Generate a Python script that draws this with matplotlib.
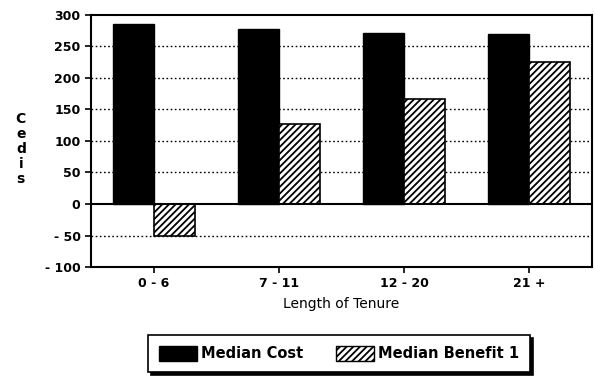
import matplotlib
matplotlib.use("Agg")
import matplotlib.pyplot as plt
import numpy as np
from matplotlib.patches import Patch

tenure = ["0 - 6", "7 - 11", "12 - 20", "21 +"]
median_cost = [285, 278, 272, 270]
median_benefit = [-50, 127, 167, 225]
y_ticks = [-100, -50, 0, 50, 100, 150, 200, 250, 300]
y_labels = ["- 100", "- 50", "0", "50", "100", "150", "200", "250", "300"]

plt.rcParams["font.family"] = ["DejaVu Sans"]
plt.rcParams["hatch.linewidth"] = 1.3

fig = plt.figure(figsize=(5.95, 3.82), dpi=100)
ax = fig.add_axes([0.153, 0.301, 0.842, 0.66])

x = np.arange(len(tenure))
w = 0.327
ax.set_axisbelow(True)
for yv in [-50, 50, 100, 150, 200, 250]:
    ax.axhline(yv, color="black", linestyle=(0, (1.2, 1.8)), linewidth=1.0, zorder=0)
ax.bar(x - w / 2, median_cost, w, color="black", edgecolor="black", linewidth=1, zorder=2)
ax.bar(x + w / 2, median_benefit, w, color="white", edgecolor="black",
       hatch="/////", linewidth=1.2, zorder=2)
ax.axhline(0, color="black", linewidth=1.5, zorder=3)

ax.set_xlim(-0.5, 3.5)
ax.set_ylim(-100, 300)
ax.set_xticks(x)
ax.set_xticklabels(tenure, fontsize=9, fontweight="bold")
ax.set_yticks(y_ticks)
ax.set_yticklabels(y_labels, fontsize=9, fontweight="bold")
ax.tick_params(direction="out", length=4, width=1.2, colors="black")
for s in ax.spines.values():
    s.set_linewidth(1.5)
ax.set_xlabel("Length of Tenure", fontsize=10, labelpad=5)

fig.text(0.035, 0.61, "C\ne\nd\ni\ns", ha="center", va="center",
         fontsize=10, fontweight="bold", linespacing=1.1)

handles = [Patch(facecolor="black", edgecolor="black", label="Median Cost"),
           Patch(facecolor="white", edgecolor="black", hatch="/////", label="Median Benefit 1")]
leg = fig.legend(handles=handles, loc="center", bbox_to_anchor=(0.57, 0.074), ncol=2,
                 frameon=True, fancybox=False, shadow={"color": "black", "alpha": 1},
                 edgecolor="black", prop={"size": 10.5, "weight": "bold"},
                 handlelength=2.6, handleheight=1.2,
                 columnspacing=2.2, handletextpad=0.3, borderpad=0.75)
leg.get_frame().set_linewidth(1.2)

fig.savefig("out.png", dpi=100)
